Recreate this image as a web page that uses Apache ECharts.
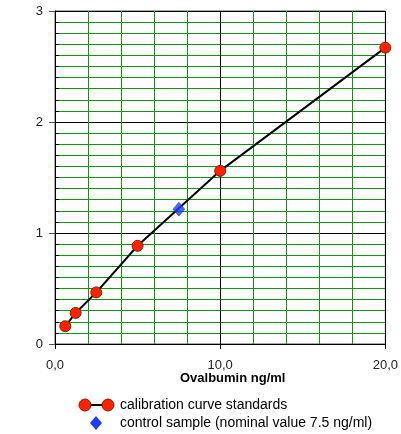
<!DOCTYPE html>
<html>
<head>
<meta charset="utf-8">
<script src="https://cdn.jsdelivr.net/npm/echarts@6/dist/echarts.min.js"></script>
<style>
  html, body { margin: 0; padding: 0; background: #fff; }
  #chart { width: 401px; height: 434px; }
</style>
</head>
<body>
<div id="chart"></div>
<script>
// calibration standards (ng/ml, OD)
var stdConc = [0.625, 1.25, 2.5, 5, 10, 20];
var stdOD = [0.16, 0.28, 0.465, 0.885, 1.56, 2.67];
// control sample
var ctrlConc = [7.5];
var ctrlOD = [1.215];

var seriesNames = ['calibration curve standards', 'control sample (nominal value 7.5 ng/ml)'];
var xTitle = 'Ovalbumin ng/ml';

var green = '#0e960e';
var font = 'Liberation Sans, Arial, sans-serif';

var myChart = echarts.init(document.getElementById('chart'));
myChart.setOption({
  animation: false,
  grid: {
    left: 55, top: 11, right: 13, bottom: 90,
    show: true, borderColor: '#555', borderWidth: 1
  },
  xAxis: {
    type: 'value',
    min: 0, max: 20, interval: 10,
    axisLine: { lineStyle: { color: '#000' } },
    axisTick: { length: 5, lineStyle: { color: '#000' } },
    axisLabel: {
      margin: 15, color: '#222', fontSize: 13, fontFamily: font,
      formatter: function (v) { return v.toFixed(1).replace('.', ','); }
    },
    splitLine: { show: true, lineStyle: { color: '#000' } },
    minorTick: { show: false, splitNumber: 5 },
    minorSplitLine: { show: true, lineStyle: { color: green } }
  },
  yAxis: [{
    type: 'value',
    min: 0, max: 3, interval: 1,
    axisLine: { show: true, lineStyle: { color: '#000' } },
    axisTick: { show: true, length: 6, lineStyle: { color: '#555' } },
    axisLabel: { margin: 12, color: '#222', fontSize: 13, fontFamily: font },
    splitLine: { show: true, lineStyle: { color: '#000' } },
    minorTick: { show: false, splitNumber: 10 },
    minorSplitLine: { show: true, lineStyle: { color: green } }
  }, {
    type: 'value',
    position: 'left',
    min: 0, max: 3, interval: 0.1,
    axisLine: { show: false },
    axisTick: { show: true, inside: true, length: 4, lineStyle: { color: '#000' } },
    axisLabel: { show: false },
    splitLine: { show: false }
  }],
  series: [{
    name: seriesNames[0],
    type: 'line',
    data: stdConc.map(function (c, i) { return [c, stdOD[i]]; }),
    symbol: 'circle',
    symbolSize: 11,
    lineStyle: { color: '#000', width: 2 },
    itemStyle: { color: '#ff2200', borderColor: '#8a1a00', borderWidth: 1 },
    z: 3
  }, {
    name: seriesNames[1],
    type: 'scatter',
    data: ctrlConc.map(function (c, i) { return [c, ctrlOD[i]]; }),
    symbol: 'diamond',
    symbolSize: [12, 14],
    itemStyle: { color: '#1f3cff', borderColor: '#0a1a99', borderWidth: 0.5 },
    z: 4
  }],
  graphic: [
    {
      type: 'text', left: 180, top: 372,
      style: { text: xTitle, font: 'bold 13px ' + font, fill: '#000' }
    },
    // legend
    { type: 'line', shape: { x1: 85, y1: 405, x2: 108, y2: 405 }, style: { stroke: '#000', lineWidth: 2 } },
    { type: 'circle', shape: { cx: 85, cy: 405, r: 6 }, style: { fill: '#ff2200', stroke: '#8a1a00', lineWidth: 1 } },
    { type: 'circle', shape: { cx: 108, cy: 405, r: 6 }, style: { fill: '#ff2200', stroke: '#8a1a00', lineWidth: 1 } },
    { type: 'polygon', shape: { points: [[96, 416], [102, 423], [96, 430], [90, 423]] }, style: { fill: '#1f3cff' } },
    {
      type: 'text', left: 120, top: 398,
      style: { text: seriesNames[0], font: '14px ' + font, fill: '#000' }
    },
    {
      type: 'text', left: 120, top: 416,
      style: { text: seriesNames[1], font: '14px ' + font, fill: '#000' }
    }
  ]
});
</script>
</body>
</html>
